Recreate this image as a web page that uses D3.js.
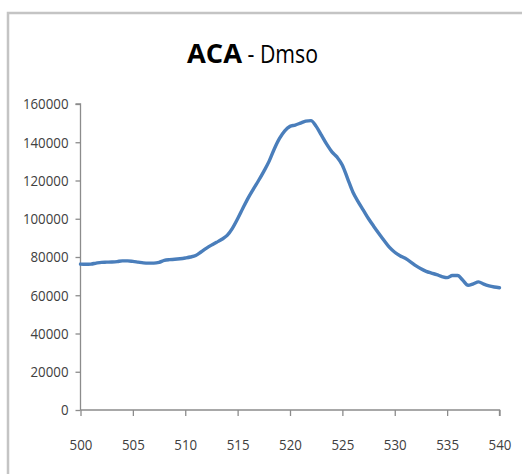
<!DOCTYPE html>
<html>
<head>
<meta charset="utf-8">
<script src="https://cdn.jsdelivr.net/npm/d3@7"></script>
<style>
html,body{margin:0;padding:0;background:#fff;}
svg{display:block;}
</style>
</head>
<body>
<svg id="chart" width="522" height="474"></svg>
<script>
const titleBold = "ACA";
const titleRest = " - Dmso";
const wavelengths = [500,500.5,501,501.5,502,502.5,503,503.5,504,504.5,505,505.5,506,506.5,507,507.5,508,508.5,509,509.5,510,510.5,511,511.5,512,512.5,513,513.5,514,514.5,515,515.5,516,516.5,517,517.5,518,518.5,519,519.5,520,520.5,521,521.5,522,522.5,523,523.5,524,524.5,525,525.5,526,526.5,527,527.5,528,528.5,529,529.5,530,530.5,531,531.5,532,532.5,533,533.5,534,534.5,535,535.5,536,536.5,537,537.5,538,538.5,539,539.5,540];
const intensity = [76300,76200,76300,76800,77200,77300,77400,77600,78000,78000,77700,77300,76900,76800,76800,77200,78200,78600,78800,79100,79500,80000,80800,82600,84500,86200,87700,89300,91300,95000,100000,105500,110800,115500,120000,124800,130000,136500,142000,146000,148300,149000,150000,151000,151300,148300,143700,139000,135000,132200,128000,121000,114000,109000,104500,100000,96000,92200,88500,85000,82500,80700,79300,77500,75500,73800,72500,71600,70800,69800,69200,70300,70300,67800,65200,66000,67000,65800,64900,64300,63900];
const xTicks = [500,505,510,515,520,525,530,535,540];
const yTicks = [0,20000,40000,60000,80000,100000,120000,140000,160000];

const svg = d3.select("#chart");
const pLeft = 80.5, pRight = 499.5, pTop = 104, pBottom = 410;
const x = d3.scaleLinear().domain([500,540]).range([pLeft,pRight]);
const y = d3.scaleLinear().domain([0,160000]).range([pBottom,pTop]);

// outer frame
svg.append("rect").attr("x",8).attr("y",13).attr("width",700).attr("height",700)
  .attr("fill","none").attr("stroke","#c4c4c4").attr("stroke-width",2.5);

const font = "'Open Sans','Liberation Sans',sans-serif";
const digitW = 7.6;

// title
const t = svg.append("text").attr("x",187).attr("y",63)
  .attr("font-family",font).attr("font-size",26).attr("fill","#000");
t.append("tspan").attr("font-weight","bold").attr("textLength",55).attr("lengthAdjust","spacingAndGlyphs").text(titleBold);
t.append("tspan").attr("textLength",76).attr("lengthAdjust","spacingAndGlyphs").text(titleRest);

// y axis
const yAxis = d3.axisLeft(y).tickValues(yTicks).tickSize(5).tickPadding(7).tickFormat(d3.format("d"));
const gy = svg.append("g").attr("transform",`translate(${pLeft},0)`).call(yAxis);
gy.select(".domain").attr("stroke","#8c8c8c").attr("stroke-width",1.3).attr("d",`M-5,${pTop}H0V${pBottom}`);
gy.selectAll(".tick line").attr("stroke","#8c8c8c").attr("stroke-width",1.3);
gy.selectAll(".tick text").attr("font-family",font).attr("font-size",15).attr("fill","#404040")
  .attr("textLength",d=>String(d).length*digitW).attr("lengthAdjust","spacingAndGlyphs");

// x axis
const xAxis = d3.axisBottom(x).tickValues(xTicks).tickSize(6).tickPadding(23).tickFormat(d3.format("d"));
const gx = svg.append("g").attr("transform",`translate(0,${pBottom})`).call(xAxis);
gx.select(".domain").attr("stroke","#8c8c8c").attr("stroke-width",1.3).attr("d",`M${pLeft},0H${pRight}V6`);
gx.selectAll(".tick line").attr("stroke","#8c8c8c").attr("stroke-width",1.3);
gx.selectAll(".tick text").attr("font-family",font).attr("font-size",15).attr("fill","#404040")
  .attr("textLength",d=>String(d).length*digitW).attr("lengthAdjust","spacingAndGlyphs");

// line
const data = wavelengths.map((w,i)=>({w, v: intensity[i]}));
svg.append("path").datum(data)
  .attr("fill","none").attr("stroke","#4a7ebb").attr("stroke-width",3.4)
  .attr("stroke-linejoin","round").attr("stroke-linecap","round")
  .attr("d", d3.line().x(d=>x(d.w)).y(d=>y(d.v)).curve(d3.curveMonotoneX));
</script>
</body>
</html>
